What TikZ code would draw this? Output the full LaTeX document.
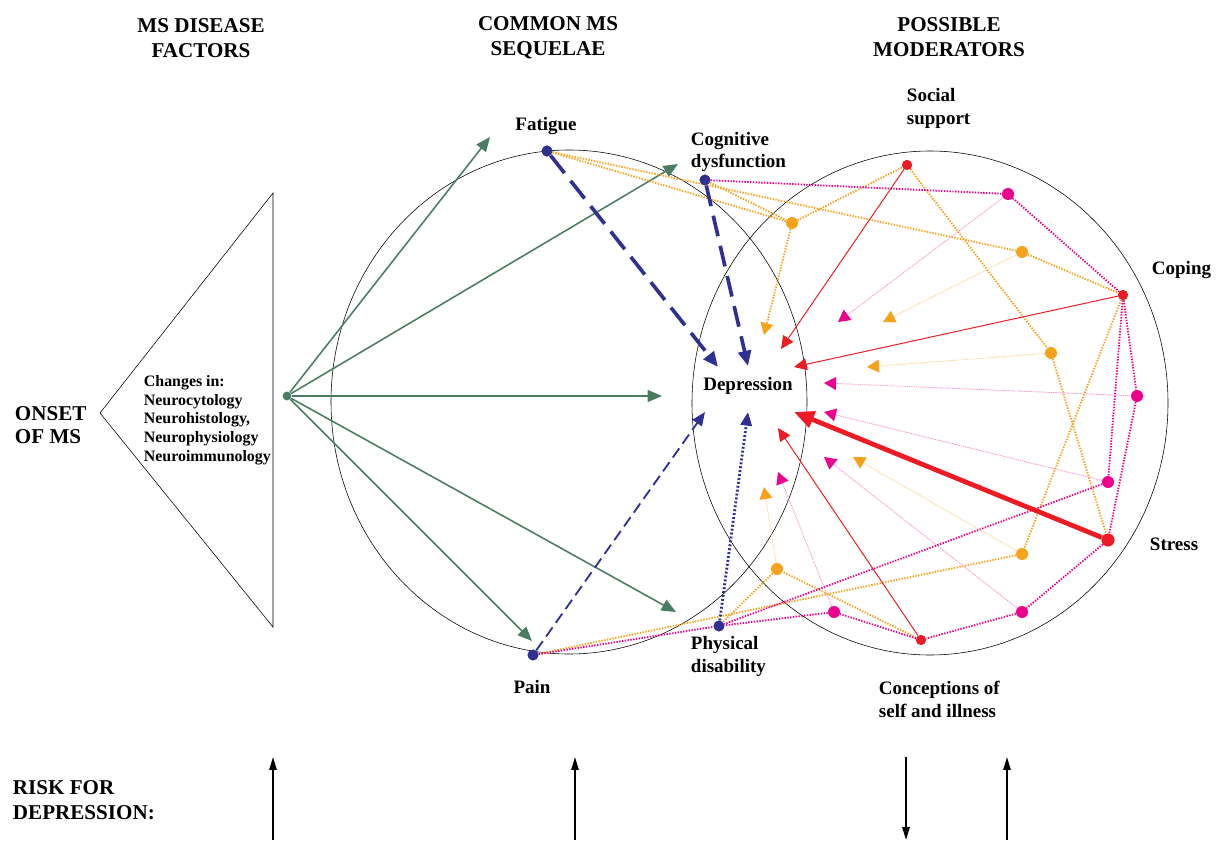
\documentclass[tikz,border=0pt]{standalone}
\usepackage{fontspec}
\setmainfont{Liberation Serif}
\usepackage{tikz}
\usetikzlibrary{arrows.meta}
\usetikzlibrary{positioning}
\definecolor{ms-green}{HTML}{4A7C62}
\definecolor{ms-blue}{HTML}{2E3192}
\definecolor{ms-red}{HTML}{ED1C24}
\definecolor{ms-pink}{HTML}{EC008C}
\definecolor{ms-orange}{HTML}{F7A21B}

\begin{document}
\begin{tikzpicture}[x=0.025cm, y=-0.025cm,
    headtext/.style={font=\fontsize{15}{18}\selectfont\bfseries, align=center},
    labeltext/.style={font=\fontsize{13.5}{16.3}\selectfont\bfseries, align=left},
    dot/.style={circle, fill, inner sep=0pt, minimum size=2.6mm},
    orangelink/.style={ms-orange, line width=1.3pt, dash pattern=on 1pt off 1pt},
    pinklink/.style={ms-pink, line width=1.3pt, dash pattern=on 1pt off 1pt},
    paleorange/.style={ms-orange!45, line width=0.6pt, dash pattern=on 1pt off 0.6pt,
        -{Triangle[length=3mm, width=3.2mm, color=ms-orange]}},
    palepink/.style={ms-pink!40, line width=0.6pt, dash pattern=on 1pt off 0.6pt,
        -{Triangle[length=3mm, width=3.2mm, color=ms-pink]}},
  ]

    \useasboundingbox (0,0) rectangle (1217,841);

    % headings
    \node[headtext] (hfac) at (201,38) {MS DISEASE\\FACTORS};
    \node[headtext] (hseq) at (548,38) {COMMON MS\\SEQUELAE};
    \node[headtext] (hmod) at (949,37) {POSSIBLE\\MODERATORS};
    \node[headtext, align=left, anchor=west, font=\fontsize{15}{16.5}\selectfont\bfseries] (onset) at (10,425) {ONSET\\OF MS};
    \node[headtext, align=left, anchor=west] (risk) at (8,800) {RISK FOR\\DEPRESSION:};

    % frames
    \draw[thin] (273,193) -- (273,627) -- (100,413) -- cycle;
    \draw[thin] (569,402) ellipse [x radius=238, y radius=252];
    \draw[thin] (930,403) ellipse [x radius=238, y radius=252];
    \node[anchor=west, align=left, font=\fontsize{11.3}{13.3}\selectfont\bfseries] (chg) at (139,420)
        {Changes in:\\Neurocytology\\Neurohistology,\\Neurophysiology\\Neuroimmunology};

    % vertices
    \node[dot, ms-green, minimum size=2.2mm] (src) at (287,396) {};
    \begin{scope}[every node/.style={dot, ms-blue, minimum size=2.7mm}]
        \node (fat) at (547,151) {};
        \node (cog) at (705,180) {};
        \node (pain) at (533,655) {};
        \node (phys) at (719,626) {};
    \end{scope}
    \begin{scope}[every node/.style={dot, ms-red, minimum size=2.5mm}]
        \node (soc) at (907,165) {};
        \node (cop) at (1123,295) {};
        \node[minimum size=3.2mm] (str) at (1108,540) {};
        \node (con) at (921,640) {};
    \end{scope}
    \begin{scope}[every node/.style={dot, ms-pink, minimum size=3mm}]
        \node (p1) at (1008,194) {};
        \node (p2) at (1137,396) {};
        \node (p3) at (1108,482) {};
        \node (p4) at (1022,612) {};
        \node (p5) at (834,612) {};
    \end{scope}
    \begin{scope}[every node/.style={dot, ms-orange, minimum size=3mm}]
        \node (o1) at (792,223) {};
        \node (o2) at (1022,252) {};
        \node (o3) at (1051,353) {};
        \node (o4) at (1022,554) {};
        \node (o5) at (777,569) {};
    \end{scope}

    % labels
    \node[labeltext] (lfat) at (546,126) {Fatigue};
    \node[labeltext, anchor=west] (lcog) at (686,152) {Cognitive\\dysfunction};
    \node[labeltext, anchor=west] (lsoc) at (902,108) {Social\\support};
    \node[labeltext, anchor=west] (lcop) at (1147,270) {Coping};
    \node[labeltext, anchor=west] (lstr) at (1145,544) {Stress};
    \node[labeltext, anchor=west] (lcon) at (874,699) {Conceptions of\\self and illness};
    \node[labeltext, anchor=west] (lphy) at (686,656) {Physical\\disability};
    \node[labeltext] (lpain) at (532,687) {Pain};
    \node[labeltext] (dep) at (748,386) {Depression};

    % arrow ends
    \coordinate (gF) at (490,137);
    \coordinate (gC) at (678,164);
    \coordinate (gD) at (662,396);
    \coordinate (gP) at (676,612);
    \coordinate (gN) at (532,641);
    \coordinate (bF) at (718,367);
    \coordinate (bC) at (748,366);
    \coordinate (bP) at (705,412);
    \coordinate (bH) at (748,412);
    \coordinate (rS) at (781,349);
    \coordinate (rC) at (794,367);
    \coordinate (rT) at (794,412);
    \coordinate (rN) at (778,428);
    \coordinate (k1) at (838,322);
    \coordinate (k2) at (824,383);
    \coordinate (k3) at (824,412);
    \coordinate (k4) at (824,457);
    \coordinate (k5) at (778,472);
    \coordinate (a1) at (764,335);
    \coordinate (a2) at (883,322);
    \coordinate (a3) at (867,367);
    \coordinate (a4) at (853,457);
    \coordinate (a5) at (764,487);

    % disease factors
    \begin{scope}[every edge/.style={draw, ms-green, line width=1.1pt}]
        \path[-{Triangle[length=3.6mm, width=3mm]}] (src) edge (gF) edge (gC) edge (gD) edge (gP) edge (gN);
    \end{scope}

    % moderator links
    \begin{scope}[every edge/.style={draw, orangelink}]
        \path (fat) edge (o1) edge (o2);
        \path (cog) edge (o1);
        \path (o1) edge (soc);
        \path (o2) edge (cop);
        \path (soc) edge (o3);
        \path (o3) edge (str);
        \path (cop) edge (o4);
        \path (o4) edge (pain);
        \path (con) edge (o5);
        \path (o5) edge (phys);
    \end{scope}
    \begin{scope}[every edge/.style={draw, pinklink}]
        \path (cog) edge (p1);
        \path (p1) edge (cop);
        \path (cop) edge (p2) edge (p3);
        \path (p2) edge (str);
        \path (p3) edge (phys);
        \path (str) edge (p4);
        \path (p4) edge (con);
        \path (con) edge (p5);
        \path (p5) edge (phys);
        \path (pain) edge (phys);
    \end{scope}

    % pale arrows
    \path[draw, orangelink, -{Triangle[length=3mm, width=3.2mm]}] (o1) -- (a1);
    \draw[paleorange] (o2) -- (a2);
    \draw[paleorange] (o3) -- (a3);
    \draw[paleorange] (o4) -- (a4);
    \draw[paleorange] (o5) -- (a5);
    \draw[palepink] (p1) -- (k1);
    \draw[palepink] (p2) -- (k2);
    \draw[palepink] (p3) -- (k3);
    \draw[palepink] (p4) -- (k4);
    \draw[palepink] (p5) -- (k5);

    % moderators
    \begin{scope}[every edge/.style={draw, ms-red, line width=0.7pt}]
        \path[-{Triangle[length=3.2mm, width=3mm]}] (soc) edge (rS);
        \path[-{Triangle[length=3.2mm, width=3mm]}] (cop) edge (rC);
        \path[-{Triangle[length=3.2mm, width=3mm]}] (con) edge (rN);
        \path[-{Triangle[length=5mm, width=4.2mm]}] (str) edge[line width=3.4pt] (rT);
    \end{scope}

    % sequelae
    \begin{scope}[every edge/.style={draw, ms-blue}]
        \path[-{Triangle[length=3.8mm, width=3.2mm]}] (fat) edge[line width=2.6pt, dash pattern=on 16pt off 7pt] (bF);
        \path[-{Triangle[length=3.8mm, width=3.2mm]}] (cog) edge[line width=2.6pt, dash pattern=on 15pt off 7pt] (bC);
        \path[-{Triangle[length=3.4mm, width=2.8mm]}] (pain) edge[line width=1.3pt, dash pattern=on 8pt off 4pt] (bP);
        \path[-{Triangle[length=3.4mm, width=2.8mm]}] (phys) edge[line width=2pt, dash pattern=on 1.4pt off 1.4pt] (bH);
    \end{scope}

    % redraw dots on top
    \foreach \n in {fat,cog,pain,phys} \fill[ms-blue] (\n) circle [radius=1.35mm];
    \foreach \n in {soc,cop,con} \fill[ms-red] (\n) circle [radius=1.25mm];
    \fill[ms-red] (str) circle [radius=1.6mm];

    % risk for depression
    \coordinate (r1) at (273,840);
    \coordinate (r2) at (575,840);
    \coordinate (r3) at (906,757);
    \coordinate (r4) at (1007,840);
    \begin{scope}[-{Triangle[length=3.2mm, width=1.8mm]}, line width=1.3pt]
        \draw (r1) -- ++(0,-83);
        \draw (r2) -- ++(0,-83);
        \draw (r3) -- ++(0,83);
        \draw (r4) -- ++(0,-83);
    \end{scope}

\end{tikzpicture}
\end{document}
